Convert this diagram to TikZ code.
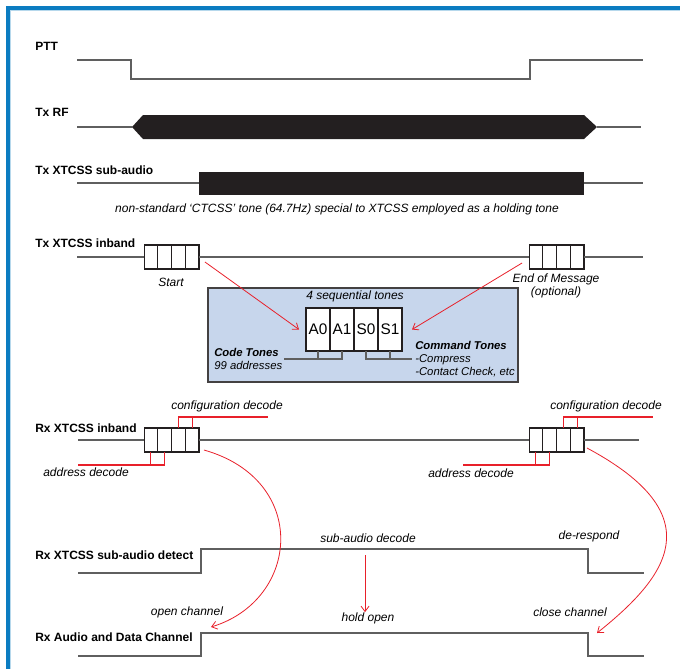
\documentclass[tikz,border=0pt]{standalone}
\usepackage{fontspec}
\setmainfont{Liberation Sans}
\usepackage{xcolor}
\definecolor{framebl}{RGB}{11,124,193}
\definecolor{panelbg}{RGB}{199,214,236}
\definecolor{wire}{RGB}{95,95,95}
\definecolor{decred}{RGB}{232,32,42}
\definecolor{ink}{RGB}{35,31,32}
\usepackage{tikz}
\usetikzlibrary{arrows.meta, positioning}

\begin{document}
\begin{tikzpicture}[
  x=0.75pt, y=-0.75pt,
  sig/.style={font=\bfseries\fontsize{9}{10}\selectfont, anchor=west, inner sep=0pt},
  note/.style={font=\itshape\fontsize{9}{10}\selectfont, align=center, inner sep=0pt},
  small/.style={note, font=\itshape\fontsize{8.5}{9.75}\selectfont},
  wave/.style={draw=wire, line width=1pt},
  cell/.style={
    draw=ink, fill=white, line width=0.8pt,
    minimum width=10.3pt, minimum height=18pt,
    inner sep=0pt, outer sep=0pt,
  },
  tone/.style={cell, minimum width=18pt, minimum height=32.25pt, font=\fontsize{11.5}{12}\selectfont},
  decode/.style={draw=decred, line width=0.8pt},
  redarrow/.style={decode, line width=0.6pt, -{Straight Barb[length=4pt, width=6pt]}},
  tick/.style={draw=wire, line width=0.8pt},
]
\useasboundingbox (0,0) rectangle (680,668);
\draw[framebl, line width=2.4pt] (8,690) -- (8,8) -- (700,8);
\draw[framebl!30, line width=0.6pt] (10.8,690) -- (10.8,10.8) -- (700,10.8);

% signal names
\node[sig] (ptt)   at (35,46)  {PTT};
\node[sig] (txrf)  at (35,112) {Tx RF};
\node[sig] (txsub) at (35,170) {Tx XTCSS sub-audio};
\node[sig] (txin)  at (35,243) {Tx XTCSS inband};
\node[sig] (rxin)  at (35,428) {Rx XTCSS inband};
\node[sig] (rxsub) at (35,555) {Rx XTCSS sub-audio detect};
\node[sig] (rxch)  at (35,637) {Rx Audio and Data Channel};

% transmit side
\draw[wave] (77,60) -- (131,60) -- (131,79) -- (530,79) -- (530,60) -- (643,60);
\draw[wave] (77,127) -- (132,127);
\fill[ink] (132,127) -- (143,115) -- (584,115) -- (597,127) -- (584,139) -- (143,139) -- cycle;
\draw[wave] (597,127) -- (641,127);
\draw[wave] (77,183) -- (643,183);
\fill[ink] (199,172) rectangle (584,195);
\node[note] (holdtone) at (337,209) {non-standard ‘CTCSS’ tone (64.7Hz) special to XTCSS employed as a holding tone};

\node[cell] (ts1) at (150.9,257) {};
\node[cell, right=0pt of ts1] (ts2) {};
\node[cell, right=0pt of ts2] (ts3) {};
\node[cell, right=0pt of ts3] (ts4) {};
\node[cell] (te1) at (535.9,257) {};
\node[cell, right=0pt of te1] (te2) {};
\node[cell, right=0pt of te2] (te3) {};
\node[cell, right=0pt of te3] (te4) {};
\draw[wave] (77,257) -- (ts1.west);
\draw[wave] (ts4.east) -- (te1.west);
\draw[wave] (te4.east) -- (643,257);
\node[note] (start) at (171,282) {Start};
\node[note] (eom)   at (556,286) {End of Message\\(optional)};

% tone panel
\draw[draw=ink!85, fill=panelbg, line width=1.2pt] (208,288) rectangle (518,382);
\node[note] (seq) at (355,296) {4 sequential tones};
\node[tone] (a0) at (318,329.5) {A0};
\node[tone, right=0pt of a0] (a1) {A1};
\node[tone, right=0pt of a1] (s0) {S0};
\node[tone, right=0pt of s0] (s1) {S1};
\coordinate (codeend) at (284,359);
\coordinate (cmdend) at (412,359);
\draw[tick] (a1.south) |- (codeend);
\draw[tick] (a0.south) -- (a0.south |- codeend);
\draw[tick] (s0.south) |- (cmdend);
\draw[tick] (s1.south) -- (s1.south |- cmdend);
\node[small, anchor=west, align=left] (codetn) at (214,359) {\textbf{Code Tones}\\99 addresses};
\node[small, anchor=west, align=left] (cmdtn) at (415,359) {\textbf{Command Tones}\\-Compress\\-Contact Check, etc};
\draw[redarrow] ([shift={(6,5)}]ts4.east) -- ([shift={(-7,0)}]a0.west);
\draw[redarrow] ([shift={(-7,6)}]te1.west) -- ([shift={(10,0)}]s1.east);

% receive side
\node[cell] (rs1) at (150.9,440) {};
\node[cell, right=0pt of rs1] (rs2) {};
\node[cell, right=0pt of rs2] (rs3) {};
\node[cell, right=0pt of rs3] (rs4) {};
\node[cell] (re1) at (535.9,440) {};
\node[cell, right=0pt of re1] (re2) {};
\node[cell, right=0pt of re2] (re3) {};
\node[cell, right=0pt of re3] (re4) {};
\draw[wave, line width=1.3pt] (78,440) -- (rs1.west);
\draw[wave, line width=1.3pt] (rs4.east) -- (re1.west);
\draw[wave, line width=1.3pt] (re4.east) -- (639,440);

\coordinate (cfgl) at (268,417);
\coordinate (adrl) at (78,465);
\coordinate (cfgr) at (653,417);
\coordinate (adrr) at (463,465);
\draw[decode] (rs3.north) |- (cfgl);
\draw[decode] (rs4.north) -- (rs4.north |- cfgl);
\draw[decode] (rs2.south) |- (adrl);
\draw[decode] (rs1.south) -- (rs1.south |- adrl);
\draw[decode] (re3.north) |- (cfgr);
\draw[decode] (re4.north) -- (re4.north |- cfgr);
\draw[decode] (re2.south) |- (adrr);
\draw[decode] (re1.south) -- (re1.south |- adrr);
\node[note] (cfgtxl) at (227,406) {configuration decode};
\node[note] (adrtxl) at (86,472)  {address decode};
\node[note] (cfgtxr) at (606,406) {configuration decode};
\node[note] (adrtxr) at (471,473) {address decode};

\draw[wave] (78,573) -- (201,573) -- (201,549) -- (588,549) -- (588,573) -- (644,573);
\draw[wave] (78,656) -- (201,656) -- (201,633) -- (588,633) -- (588,656) -- (644,656);
\node[note] (sadec)  at (368,538) {sub-audio decode};
\node[note] (deresp) at (589,536) {de-respond};
\node[note] (opench) at (187,612) {open channel};
\node[note] (hold)   at (368,618) {hold open};
\node[note] (closech) at (570,612) {close channel};

\coordinate (openpt) at (211,627);
\coordinate (closept) at (597,633);
\coordinate (holdtop) at (365,555);
\draw[redarrow] ([shift={(5,-2)}]rs4.south east) .. controls (310,480) and (300,600) .. (openpt);
\draw[redarrow] ([shift={(3,-4)}]re4.south east) .. controls (714,516) and (667,577) .. (closept);
\draw[redarrow] (holdtop) -- (holdtop |- hold.north);
\end{tikzpicture}
\end{document}
